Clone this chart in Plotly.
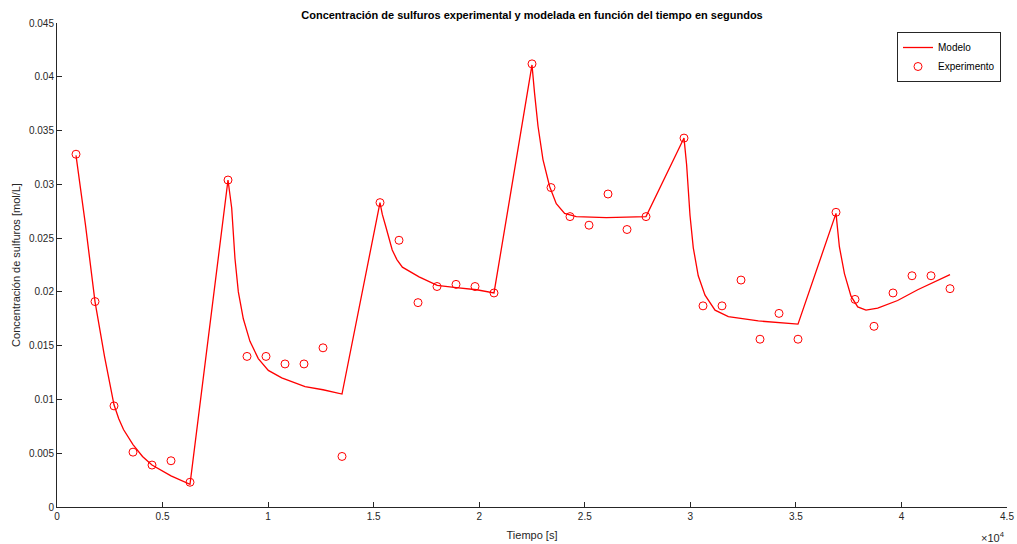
import plotly.graph_objects as go

# Experimental data (time in s, concentration in mol/L)
t_exp = [900, 1800, 2700, 3600, 4500, 5400, 6300,
         8100, 9000, 9900, 10800, 11700, 12600, 13500,
         15300, 16200, 17100, 18000, 18900, 19800, 20700,
         22500, 23400, 24300, 25200, 26100, 27000, 27900,
         29700, 30600, 31500, 32400, 33300, 34200, 35100,
         36900, 37800, 38700, 39600, 40500, 41400, 42300]
c_exp = [0.0328, 0.0191, 0.0094, 0.0051, 0.0039, 0.0043, 0.0023,
         0.0304, 0.0140, 0.0140, 0.0133, 0.0133, 0.0148, 0.0047,
         0.0283, 0.0248, 0.0190, 0.0205, 0.0207, 0.0205, 0.0199,
         0.0412, 0.0297, 0.0270, 0.0262, 0.0291, 0.0258, 0.0270,
         0.0343, 0.0187, 0.0187, 0.0211, 0.0156, 0.0180, 0.0156,
         0.0274, 0.0193, 0.0168, 0.0199, 0.0215, 0.0215, 0.0203]

# Model curve
t_mod = [900, 1350, 1800, 2250, 2700, 2925, 3150, 3600, 4050, 4500, 5400, 6300,
         8100, 8275, 8430, 8590, 8825, 9140, 9535, 10010, 10645, 11750, 12600, 13500,
         15300, 15410, 15570, 15720, 15880, 16100, 16360, 17150, 18010, 18910, 19880, 20700,
         22500, 22620, 22785, 23020, 23335, 23650, 24045, 24600, 26020, 27900,
         29700, 29825, 29985, 30140, 30375, 30695, 31170, 31800, 33220, 35100,
         36900, 37060, 37300, 37610, 37930, 38320, 38875, 39820, 40770, 42300]
c_mod = [0.0327, 0.0262, 0.0191, 0.0140, 0.0095, 0.0082, 0.0072, 0.0058, 0.0047, 0.0039, 0.0029, 0.0021,
         0.0304, 0.0278, 0.0231, 0.0200, 0.0175, 0.0154, 0.0138, 0.0127, 0.0120, 0.0112, 0.0109, 0.0105,
         0.0283, 0.0272, 0.0261, 0.0249, 0.0239, 0.0230, 0.0223, 0.0214, 0.0206, 0.0204, 0.0202, 0.0199,
         0.0411, 0.0385, 0.0354, 0.0323, 0.0298, 0.0282, 0.0273, 0.0270, 0.0269, 0.0270,
         0.0343, 0.0318, 0.0271, 0.0241, 0.0215, 0.0197, 0.0183, 0.0177, 0.0173, 0.0170,
         0.0273, 0.0242, 0.0217, 0.0196, 0.0186, 0.0183, 0.0185, 0.0192, 0.0202, 0.0216]

x_tickvals = [0, 5000, 10000, 15000, 20000, 25000, 30000, 35000, 40000, 45000]
x_ticktext = ["0", "0.5", "1", "1.5", "2", "2.5", "3", "3.5", "4", "4.5"]
y_tickvals = [0, 0.005, 0.01, 0.015, 0.02, 0.025, 0.03, 0.035, 0.04, 0.045]
y_ticktext = ["0", "0.005", "0.01", "0.015", "0.02", "0.025", "0.03", "0.035", "0.04", "0.045"]

AX = "#262626"
FONT = "Liberation Sans, Arial, Helvetica, sans-serif"

fig = go.Figure()
fig.add_trace(go.Scatter(x=t_mod, y=c_mod, mode="lines", name="Modelo",
                         line=dict(color="#ff0000", width=1.3)))
fig.add_trace(go.Scatter(x=t_exp, y=c_exp, mode="markers", name="Experimento",
                         marker=dict(symbol="circle-open", color="#ff0000", size=8,
                                     line=dict(width=1, color="#ff0000"))))

fig.update_layout(
    width=1017, height=544,
    margin=dict(l=57, r=10, t=23, b=37, autoexpand=False),
    paper_bgcolor="white", plot_bgcolor="white",
    font=dict(family=FONT, size=10, color=AX),
    title=dict(text="<b>Concentración de sulfuros experimental y modelada en función del tiempo en segundos</b>",
               x=(57 + 1007) / 2 / 1017, xanchor="center", y=1 - 15 / 544, yanchor="middle",
               font=dict(family=FONT, size=11, color="black")),
    showlegend=True,
    legend=dict(x=0.9937, xanchor="right", y=0.9814, yanchor="top",
                bgcolor="white", bordercolor=AX, borderwidth=1,
                font=dict(family=FONT, size=10, color="black"),
                itemwidth=30, tracegroupgap=0),
)
fig.update_xaxes(range=[0, 45000], tickvals=x_tickvals, ticktext=x_ticktext, automargin=False,
                 ticks="inside", ticklen=5, tickcolor=AX, showline=True, linecolor=AX,
                 linewidth=1, showgrid=False, zeroline=False, mirror=False,
                 title=dict(text="Tiempo [s]", font=dict(family=FONT, size=11, color=AX), standoff=10),
                 tickfont=dict(family=FONT, size=10, color=AX))
fig.update_yaxes(range=[0, 0.045], tickvals=y_tickvals, ticktext=y_ticktext, automargin=False,
                 ticks="inside", ticklen=5, tickcolor=AX, showline=True, linecolor=AX,
                 linewidth=1, showgrid=False, zeroline=False, mirror=False,
                 title=dict(text="Concentración de sulfuros [mol/L]", font=dict(family=FONT, size=11, color=AX), standoff=6),
                 tickfont=dict(family=FONT, size=10, color=AX))
fig.add_annotation(text="×10<sup>4</sup>", xref="paper", yref="paper", x=1.0, y=-0.062,
                   xanchor="right", yanchor="middle", showarrow=False,
                   font=dict(family=FONT, size=11, color=AX))

fig.write_html("out.html", config={"displayModeBar": False},
               post_script="document.body.style.margin='0';document.body.style.overflow='hidden';")
